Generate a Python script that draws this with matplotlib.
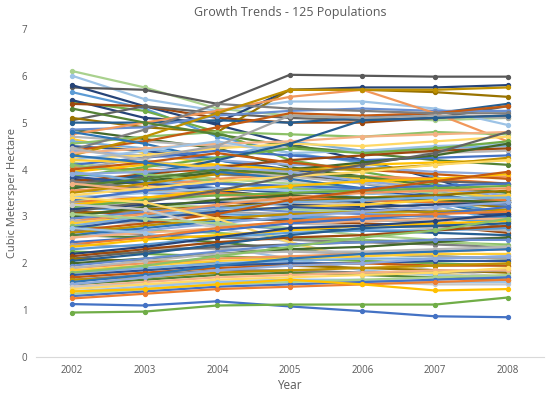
"""Growth Trends - 125 Populations"""

import matplotlib
matplotlib.use("Agg")
import matplotlib.pyplot as plt

years = [2002, 2003, 2004, 2005, 2006, 2007, 2008]

# Populationen mit Startwert >= 4.5
high = [
    [6.10, 5.75, 5.30, 5.15, 5.10, 5.05, 5.10],
    [6.00, 5.50, 5.25, 5.45, 5.45, 5.30, 4.95],
    [5.75, 5.70, 5.40, 6.02, 6.00, 5.98, 5.98],
    [5.80, 5.35, 4.95, 4.55, 4.20, 3.80, 3.30],
    [5.65, 5.30, 4.70, 4.35, 4.15, 3.85, 3.30],
    [5.45, 5.25, 4.80, 4.20, 3.95, 3.70, 3.25],
    [5.48, 5.10, 5.00, 5.70, 5.75, 5.75, 5.80],
    [5.40, 5.35, 5.10, 5.00, 5.00, 5.10, 5.15],
    [5.05, 5.35, 5.20, 5.10, 5.05, 5.10, 5.35],
    [5.10, 4.90, 4.80, 5.70, 5.70, 5.65, 5.55],
    [5.00, 5.00, 5.05, 5.00, 5.10, 5.20, 5.40],
    [4.85, 4.65, 4.45, 4.05, 3.85, 3.50, 3.20],
    [4.85, 4.90, 5.15, 5.25, 5.30, 5.25, 5.25],
    [4.75, 5.00, 5.25, 5.55, 5.70, 5.20, 4.60],
    [4.70, 4.60, 4.50, 4.45, 4.40, 4.35, 4.40],
    [4.65, 4.35, 4.10, 3.80, 3.55, 3.30, 3.10],
    [4.60, 4.45, 4.25, 4.60, 4.40, 4.45, 4.50],
    [4.55, 4.70, 4.80, 4.75, 4.70, 4.80, 4.75],
    [4.50, 4.40, 4.20, 4.00, 3.80, 3.55, 3.35],
    [4.40, 4.60, 4.90, 5.20, 5.15, 5.20, 5.35],
    [4.42, 4.85, 5.40, 5.30, 5.25, 5.20, 5.20],
    [4.30, 4.70, 5.20, 5.70, 5.70, 5.70, 5.75],
    [4.80, 4.55, 4.20, 3.95, 3.70, 3.45, 3.20],
    [5.30, 5.00, 4.75, 4.50, 4.35, 4.20, 4.10],
]

# Startwert 3.5 - 4.5
mid_high = [
    [4.40, 4.30, 4.20, 4.10, 4.05, 3.95, 3.90],
    [4.35, 4.45, 4.55, 4.60, 4.70, 4.75, 4.80],
    [4.30, 4.10, 3.90, 3.75, 3.55, 3.40, 3.30],
    [4.25, 4.30, 4.45, 4.55, 4.50, 4.60, 4.70],
    [4.20, 4.40, 4.60, 4.35, 4.40, 4.50, 4.55],
    [4.15, 3.95, 3.80, 3.70, 3.60, 3.50, 3.40],
    [4.10, 4.25, 4.40, 4.30, 4.20, 4.25, 4.30],
    [4.05, 4.00, 3.95, 3.90, 3.85, 3.80, 3.70],
    [4.00, 4.25, 4.50, 5.15, 5.10, 5.15, 5.10],
    [3.95, 4.10, 4.10, 4.00, 4.10, 4.15, 4.20],
    [3.90, 3.80, 3.70, 3.60, 3.55, 3.35, 3.05],
    [3.85, 4.05, 4.25, 4.45, 4.35, 4.45, 4.60],
    [3.80, 3.70, 3.55, 3.40, 3.30, 3.15, 3.00],
    [3.75, 3.90, 4.05, 4.20, 4.30, 4.40, 4.45],
    [3.70, 3.85, 3.90, 3.85, 3.80, 3.75, 3.70],
    [3.65, 3.55, 3.50, 3.45, 3.35, 3.30, 3.20],
    [3.60, 3.90, 4.20, 4.55, 5.05, 5.10, 5.15],
    [3.60, 3.75, 3.95, 4.00, 4.15, 4.30, 4.55],
    [3.55, 3.50, 3.45, 3.40, 3.35, 3.30, 3.25],
    [3.55, 3.65, 3.80, 3.90, 3.85, 3.80, 3.85],
    [4.45, 4.20, 4.00, 3.85, 3.70, 3.55, 3.40],
    [4.20, 4.15, 4.05, 3.95, 3.80, 3.60, 3.35],
    [3.95, 3.75, 3.60, 3.55, 3.40, 3.25, 2.85],
    [4.10, 3.90, 3.75, 3.60, 3.50, 3.40, 3.35],
    [3.85, 3.70, 3.60, 3.50, 3.50, 3.45, 3.30],
    [4.00, 4.15, 4.35, 4.15, 4.00, 3.90, 3.80],
    [3.75, 3.60, 3.50, 3.35, 3.25, 3.05, 2.75],
    [3.50, 3.70, 3.90, 4.00, 4.00, 4.10, 4.25],
    [4.30, 4.15, 3.95, 3.80, 3.60, 3.30, 3.00],
    [3.65, 3.80, 4.00, 3.90, 3.85, 3.65, 3.50],
    [3.90, 3.95, 4.05, 3.95, 3.75, 3.60, 3.45],
    [3.70, 3.55, 3.45, 3.30, 3.15, 2.95, 2.65],
]

# Startwert 2.5 - 3.5
mid_low = [
    [3.45, 3.40, 3.35, 3.30, 3.25, 3.15, 3.05],
    [3.45, 3.60, 3.75, 3.85, 3.95, 4.10, 4.20],
    [3.40, 3.50, 3.60, 3.55, 3.50, 3.40, 3.30],
    [3.35, 3.25, 3.20, 3.15, 3.10, 3.00, 2.90],
    [3.35, 3.55, 3.70, 3.65, 3.60, 3.65, 3.70],
    [3.30, 3.40, 3.50, 3.40, 3.35, 3.30, 3.35],
    [3.30, 3.20, 3.10, 3.05, 2.95, 2.85, 2.75],
    [3.25, 3.40, 3.55, 3.65, 3.75, 3.80, 3.90],
    [3.20, 3.10, 3.05, 3.00, 2.95, 2.95, 2.90],
    [3.20, 3.35, 3.45, 3.50, 3.55, 3.60, 3.65],
    [3.15, 3.25, 3.30, 3.25, 3.20, 3.25, 3.30],
    [3.10, 3.05, 3.00, 2.90, 2.85, 2.80, 2.65],
    [3.10, 3.30, 3.55, 3.85, 4.10, 4.35, 4.80],
    [3.05, 3.15, 3.20, 3.30, 3.40, 3.45, 3.55],
    [3.00, 2.90, 2.80, 2.75, 2.70, 2.65, 2.60],
    [3.00, 3.20, 3.35, 3.45, 3.40, 3.35, 3.30],
    [2.95, 3.10, 3.20, 3.10, 3.05, 3.00, 2.95],
    [2.90, 3.05, 3.25, 3.40, 3.50, 3.55, 3.60],
    [2.90, 2.85, 2.80, 2.85, 2.80, 2.75, 2.70],
    [2.85, 3.00, 3.10, 3.20, 3.25, 3.35, 3.45],
    [2.80, 3.00, 3.15, 3.30, 3.35, 3.40, 3.40],
    [2.80, 2.70, 2.65, 2.55, 2.50, 2.45, 2.40],
    [2.75, 2.95, 3.10, 3.20, 3.15, 3.10, 3.05],
    [2.70, 2.85, 3.05, 3.35, 3.55, 3.75, 3.95],
    [2.70, 2.60, 2.55, 2.50, 2.45, 2.40, 2.35],
    [2.65, 2.80, 2.95, 3.05, 3.10, 3.10, 3.15],
    [2.60, 2.75, 2.90, 2.95, 2.90, 2.95, 3.00],
    [2.60, 2.55, 2.45, 2.30, 2.20, 2.15, 2.10],
    [2.55, 2.70, 2.85, 3.00, 3.10, 3.20, 3.30],
    [2.55, 2.65, 2.75, 2.85, 2.90, 2.95, 2.95],
    [3.25, 3.15, 2.75, 2.45, 2.10, 1.85, 1.70],
    [3.40, 3.30, 2.95, 2.45, 2.05, 1.80, 1.65],
    [2.75, 2.65, 2.35, 2.10, 1.85, 1.75, 1.70],
    [3.05, 2.95, 2.85, 2.75, 2.60, 2.50, 2.35],
]

# Startwert < 2.5
low = [
    [2.45, 2.55, 2.70, 2.85, 2.95, 3.05, 3.20],
    [2.40, 2.55, 2.75, 2.90, 3.00, 3.05, 3.10],
    [2.40, 2.35, 2.30, 2.25, 2.20, 2.15, 2.10],
    [2.35, 2.50, 2.60, 2.70, 2.80, 2.85, 2.90],
    [2.30, 2.40, 2.55, 2.65, 2.70, 2.70, 2.75],
    [2.25, 2.20, 2.15, 2.10, 2.05, 2.00, 1.95],
    [2.20, 2.35, 2.55, 2.75, 2.80, 2.90, 3.05],
    [2.15, 2.30, 2.45, 2.55, 2.60, 2.70, 2.80],
    [2.10, 2.25, 2.35, 2.40, 2.45, 2.50, 2.55],
    [2.10, 2.05, 2.00, 1.95, 1.90, 1.85, 1.80],
    [2.05, 2.20, 2.40, 2.60, 2.75, 2.80, 2.85],
    [2.00, 2.10, 2.20, 2.30, 2.35, 2.45, 2.55],
    [1.95, 2.10, 2.25, 2.40, 2.45, 2.50, 2.50],
    [1.90, 2.00, 2.10, 2.15, 2.20, 2.25, 2.30],
    [1.90, 2.05, 2.20, 2.25, 2.25, 2.30, 2.35],
    [1.85, 1.95, 2.05, 2.10, 2.15, 2.20, 2.20],
    [1.80, 1.90, 2.00, 2.05, 2.10, 2.10, 2.15],
    [1.80, 1.95, 2.15, 2.35, 2.55, 2.70, 2.95],
    [1.75, 1.85, 1.95, 2.00, 2.00, 2.05, 2.05],
    [1.70, 1.80, 1.90, 1.95, 2.00, 1.95, 1.95],
    [1.65, 1.75, 1.85, 1.85, 1.80, 1.80, 1.85],
    [1.65, 1.70, 1.80, 1.85, 1.90, 1.95, 2.00],
    [1.60, 1.75, 1.95, 2.10, 2.20, 2.25, 2.30],
    [1.55, 1.65, 1.75, 1.80, 1.75, 1.70, 1.65],
    [1.55, 1.70, 1.85, 1.95, 2.00, 2.10, 2.15],
    [1.50, 1.60, 1.70, 1.75, 1.80, 1.85, 1.85],
    [1.50, 1.55, 1.60, 1.65, 1.60, 1.55, 1.55],
    [1.45, 1.55, 1.65, 1.70, 1.75, 1.80, 1.90],
    [1.40, 1.50, 1.60, 1.65, 1.65, 1.60, 1.60],
    [1.35, 1.45, 1.55, 1.60, 1.65, 1.70, 1.75],
    [1.30, 1.40, 1.50, 1.55, 1.60, 1.65, 1.70],
    [1.25, 1.35, 1.45, 1.50, 1.55, 1.60, 1.65],
    [1.13, 1.10, 1.19, 1.08, 0.98, 0.87, 0.85],
    [0.95, 0.97, 1.10, 1.12, 1.12, 1.12, 1.27],
    [1.40, 1.45, 1.55, 1.65, 1.55, 1.42, 1.45],
]

populations = high + mid_high + mid_low + low

# Excel-Farbpalette (Grundfarben, dunkel, hell, ...)
palette = ['#4472C4', '#ED7D31', '#A5A5A5', '#FFC000', '#5B9BD5', '#70AD47',
           '#264478', '#9E480E', '#636363', '#997300', '#255E91', '#43682B',
           '#698ED0', '#F1975A', '#B7B7B7', '#FFCD33', '#7CAFDD', '#8CC168',
           '#2F5597', '#C55A11', '#7F7F7F', '#BF9000', '#2E75B6', '#548235',
           '#8FAADC', '#F4B183', '#C9C9C9', '#FFD966', '#9DC3E6', '#A9D18E']
special = {0: '#A9D18E', 1: '#9DC3E6', 2: '#595959', 3: '#264478',
           len(populations) - 3: '#4472C4', len(populations) - 2: '#70AD47',
           len(populations) - 1: '#FFC000'}

plt.rcParams['font.family'] = ['Open Sans', 'DejaVu Sans']
grau = '#595959'

fig = plt.figure(figsize=(5.5, 3.95), dpi=100)
ax = fig.add_axes([0.065, 0.096, 0.924, 0.831])

for i, werte in enumerate(populations):
    farbe = special.get(i, palette[i % len(palette)])
    ax.plot(years, werte, '-o', color=farbe, lw=1.6, ms=2.8, zorder=2)

ax.set_xlim(2001.5, 2008.5)
ax.set_ylim(0, 7)
ax.set_xticks(years)
ax.set_yticks(range(0, 8))

for s in ['top', 'right', 'left']:
    ax.spines[s].set_visible(False)
ax.spines['bottom'].set_color('#d9d9d9')
ax.tick_params(length=0, labelsize=7, labelcolor=grau, pad=6)

ax.set_title('Growth Trends - 125 Populations', fontsize=9, color=grau, pad=9)
ax.set_xlabel('Year', fontsize=8.5, color=grau, labelpad=2)
ax.set_ylabel('Cubic Metersper Hectare', fontsize=8, color=grau, labelpad=3)

fig.savefig('out.png', dpi=100)
